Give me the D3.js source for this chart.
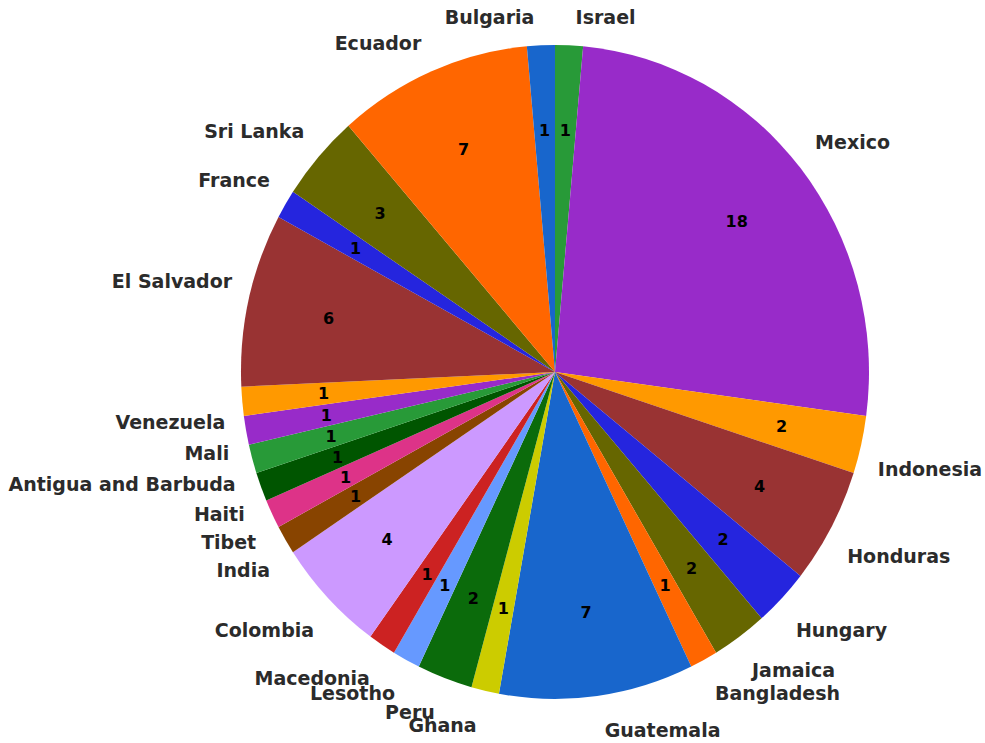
<!DOCTYPE html>
<html>
<head>
<meta charset="utf-8">
<script src="https://cdn.jsdelivr.net/npm/d3@7"></script>
<style>
  body { margin: 0; background: #fff; }
  svg text { font-family: "DejaVu Sans", sans-serif; font-weight: bold; }
</style>
</head>
<body>
<svg id="chart" width="985" height="743"></svg>
<script>
// slices clockwise from 12 o'clock
var countries = ["Israel", "Mexico", "Indonesia", "Honduras", "Hungary", "Jamaica",
  "Bangladesh", "Guatemala", "Ghana", "Peru", "Lesotho", "Macedonia", "Colombia",
  "India", "Tibet", "Haiti", "Antigua and Barbuda", "Mali", "Venezuela",
  "El Salvador", "France", "Sri Lanka", "Ecuador", "Bulgaria"];
var counts = [1, 18, 2, 4, 2, 2, 1, 7, 1, 2, 1, 1, 4, 1, 1, 1, 1, 1, 1, 6, 1, 3, 7, 1];

var palette = ["#289a38", "#982bc9", "#ff9900", "#993333", "#2525de", "#666600",
  "#ff6600", "#1866cc", "#cccc00", "#0b6b0b", "#6699ff", "#cc2222",
  "#cc99ff", "#884400", "#dd3388", "#005500"];

var cx = 555, cy = 372;
var rx = 314, ry = 327;   // the picture is a touch taller than wide

var svg = d3.select("#chart");

var color = d3.scaleOrdinal()
  .domain(d3.range(palette.length))
  .range(palette);

var pie = d3.pie().sort(null).value(function(d) { return d; });
var arcs = pie(counts);

var arc = d3.arc().innerRadius(0).outerRadius(rx);

var g = svg.append("g")
  .attr("transform", "translate(" + cx + "," + cy + ") scale(1," + (ry / rx) + ")");

g.selectAll("path")
  .data(arcs)
  .enter()
  .append("path")
    .attr("d", arc)
    .attr("fill", function(d, i) { return color(i % palette.length); });

function mid(d) { return (d.startAngle + d.endAngle) / 2; }

// numbers inside the slices
svg.selectAll("text.val")
  .data(arcs)
  .enter()
  .append("text")
    .attr("class", "val")
    .attr("x", function(d) { return cx + Math.sin(mid(d)) * rx * 0.74; })
    .attr("y", function(d) { return cy - Math.cos(mid(d)) * ry * 0.74; })
    .attr("dy", "0.36em")
    .attr("text-anchor", "middle")
    .attr("font-size", 16)
    .attr("fill", "#000")
    .text(function(d) { return d.data; });

// country names outside, pushed away from the horizontal a bit
svg.selectAll("text.lab")
  .data(arcs)
  .enter()
  .append("text")
    .attr("class", "lab")
    .attr("x", function(d) {
      var s = Math.sin(mid(d));
      return cx + s * 325 + (s >= 0 ? 6 : -6);
    })
    .attr("y", function(d) {
      var a = mid(d), s = Math.sin(a), c = Math.cos(a);
      var side = c < 0 ? 1 : -1;
      return cy - c * 358 + 3 + side * 15 * s * s;
    })
    .attr("dy", "0.36em")
    .attr("text-anchor", function(d) { return Math.sin(mid(d)) >= 0 ? "start" : "end"; })
    .attr("font-size", 19)
    .attr("fill", "#2b2b2b")
    .text(function(d, i) { return countries[i]; });
</script>
</body>
</html>
